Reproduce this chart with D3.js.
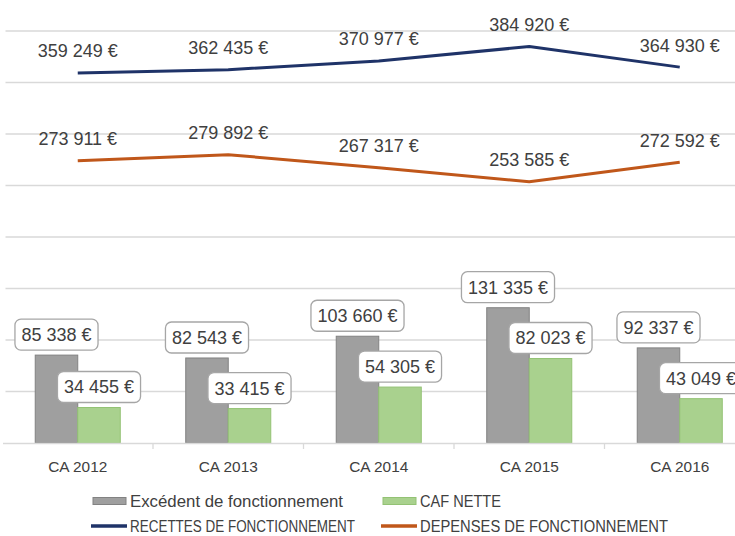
<!DOCTYPE html>
<html>
<head>
<meta charset="utf-8">
<script src="https://cdn.jsdelivr.net/npm/d3@7"></script>
<style>
  body { margin: 0; background: #fff; }
  svg { display: block; }
</style>
</head>
<body>
<div id="chart"></div>
<script>
const categories = ["CA 2012", "CA 2013", "CA 2014", "CA 2015", "CA 2016"];
const excedent = [85338, 82543, 103660, 131335, 92337];
const cafNette = [34455, 33415, 54305, 82023, 43049];
const recettes = [359249, 362435, 370977, 384920, 364930];
const depenses = [273911, 279892, 267317, 253585, 272592];
const yTicks = [0, 50000, 100000, 150000, 200000, 250000, 300000, 350000, 400000];

const barSeries = [
  { name: "Excédent de fonctionnement", values: excedent, fill: "#9f9f9f", stroke: "#828282" },
  { name: "CAF NETTE", values: cafNette, fill: "#a9d18e", stroke: "#93c274" }
];
const lineSeries = [
  { name: "RECETTES DE FONCTIONNEMENT", values: recettes, color: "#1f3368" },
  { name: "DEPENSES DE FONCTIONNEMENT", values: depenses, color: "#c0571a" }
];

const width = 735;
const height = 536;
const font = "'Liberation Sans', Arial, sans-serif";

const fr = d3.formatLocale({ decimal: ",", thousands: " ", grouping: [3], currency: ["", " €"] });
const euro = (v) => fr.format(",")(v) + " €";

const svg = d3.select("#chart")
  .append("svg")
  .attr("width", width)
  .attr("height", height)
  .style("font-family", font);

// le graphique d'origine déborde à droite
const x0 = d3.scaleBand()
  .domain(categories)
  .range([2.5, 755]);

const x1 = d3.scaleBand()
  .domain(barSeries.map((d) => d.name))
  .range([0, x0.bandwidth()])
  .paddingOuter(0.77);

const y = d3.scaleLinear()
  .domain([0, 400000])
  .range([443, 31]);

// grille
svg.append("g")
  .selectAll("line")
  .data(yTicks.slice(1))
  .join("line")
  .attr("x1", x0.range()[0] + 3)
  .attr("x2", width)
  .attr("y1", (d) => y(d))
  .attr("y2", (d) => y(d))
  .attr("stroke", "#d9d9d9")
  .attr("stroke-width", 1.3);

// barres
barSeries.forEach((s) => {
  svg.append("g")
    .selectAll("rect")
    .data(s.values)
    .join("rect")
    .attr("x", (d, i) => x0(categories[i]) + x1(s.name))
    .attr("y", (d) => y(d))
    .attr("width", x1.bandwidth())
    .attr("height", (d) => y(0) - y(d))
    .attr("fill", s.fill)
    .attr("stroke", s.stroke)
    .attr("stroke-width", 1);
});

// axe des x
const xAxis = svg.append("g")
  .attr("transform", `translate(0,${y(0)})`)
  .call(d3.axisBottom(x0).tickSize(0).tickPadding(18));
xAxis.select(".domain").attr("stroke", "#d9d9d9").attr("stroke-width", 1.3);
xAxis.selectAll("text")
  .attr("fill", "#404040")
  .style("font-family", font)
  .style("font-size", "15.4px");

svg.append("g")
  .selectAll("line")
  .data(categories.slice(1))
  .join("line")
  .attr("x1", (d) => x0(d))
  .attr("x2", (d) => x0(d))
  .attr("y1", y(0))
  .attr("y2", y(0) + 6)
  .attr("stroke", "#d9d9d9")
  .attr("stroke-width", 1.3);

// lignes
lineSeries.forEach((s) => {
  const line = d3.line()
    .x((d, i) => x0(categories[i]) + x0.bandwidth() / 2)
    .y((d) => y(d));

  svg.append("path")
    .datum(s.values)
    .attr("d", line)
    .attr("fill", "none")
    .attr("stroke", s.color)
    .attr("stroke-width", 3)
    .attr("stroke-linejoin", "round");

  svg.append("g")
    .selectAll("text")
    .data(s.values)
    .join("text")
    .attr("x", (d, i) => x0(categories[i]) + x0.bandwidth() / 2)
    .attr("y", (d) => y(d) - 22)
    .attr("dy", "0.36em")
    .attr("text-anchor", "middle")
    .attr("fill", "#404040")
    .style("font-size", "18px")
    .text((d) => euro(d));
});

// étiquettes encadrées des barres
barSeries.forEach((s) => {
  s.values.forEach((v, i) => {
    const cx = x0(categories[i]) + x1(s.name) + x1.bandwidth() / 2;
    const g = svg.append("g");
    const box = g.append("rect");
    const t = g.append("text")
      .attr("x", cx)
      .attr("y", y(v) - 5 - 15.5)
      .attr("dy", "0.36em")
      .attr("text-anchor", "middle")
      .attr("fill", "#404040")
      .style("font-size", "18px")
      .text(euro(v));
    const w = t.node().getComputedTextLength() + 13;
    box.attr("x", cx - w / 2)
      .attr("y", y(v) - 5 - 31)
      .attr("width", w)
      .attr("height", 31)
      .attr("rx", 6)
      .attr("fill", "#fff")
      .attr("stroke", "#a6a6a6")
      .attr("stroke-width", 1.3);
  });
});

// légende
const legendRows = [
  { y: 501, items: [
    { x: 93, kind: "rect", s: barSeries[0], textWidth: 213 },
    { x: 383, kind: "rect", s: barSeries[1], textWidth: 81 }
  ] },
  { y: 526, items: [
    { x: 91, kind: "line", s: lineSeries[0], textWidth: 225 },
    { x: 381, kind: "line", s: lineSeries[1], textWidth: 248 }
  ] }
];

legendRows.forEach((row) => {
  row.items.forEach((it) => {
    const g = svg.append("g").attr("transform", `translate(${it.x},${row.y})`);
    if (it.kind === "rect") {
      g.append("rect")
        .attr("x", 0).attr("y", -3.5)
        .attr("width", 33).attr("height", 7)
        .attr("fill", it.s.fill)
        .attr("stroke", it.s.stroke);
    } else {
      g.append("line")
        .attr("x1", 0).attr("x2", 36)
        .attr("stroke", it.s.color)
        .attr("stroke-width", 3.5);
    }
    g.append("text")
      .attr("x", it.kind === "rect" ? 37 : 39)
      .attr("dy", "0.36em")
      .attr("fill", "#404040")
      .attr("textLength", it.textWidth)
      .attr("lengthAdjust", "spacingAndGlyphs")
      .style("font-size", "16.8px")
      .text(it.s.name);
  });
});
</script>
</body>
</html>
